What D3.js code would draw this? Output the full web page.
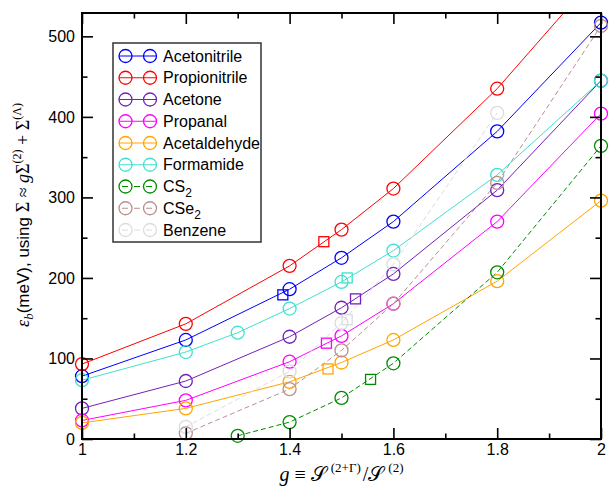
<!DOCTYPE html>
<html>
<head>
<meta charset="utf-8">
<script src="https://cdn.jsdelivr.net/npm/d3@7/dist/d3.min.js"></script>
<style>
  html, body { margin: 0; padding: 0; background: #fff; }
  svg { display: block; }
</style>
</head>
<body>
<svg id="chart" width="609" height="490"></svg>
<script>
// ---------- DATA ----------
const seriesNames = ["Acetonitrile", "Propionitrile", "Acetone", "Propanal", "Acetaldehyde", "Formamide", "CS2", "CSe2", "Benzene"];
const seriesColors = ["#0000ff", "#ff0000", "#7221bc", "#ff00ff", "#ffa500", "#40e0d0", "#008b00", "#bc8f8f", "#dcdcdc"];
const seriesDashed = [false, false, false, false, false, false, true, true, true];

const gAcetonitrile  = [1.0, 1.2, 1.4, 1.5, 1.6, 1.8, 2.0];
const vAcetonitrile  = [78, 123, 186, 225, 270, 382, 517];
const gPropionitrile = [1.0, 1.2, 1.4, 1.5, 1.6, 1.8, 2.0];
const vPropionitrile = [93, 143, 215, 260, 311, 435, 582];
const gAcetone       = [1.0, 1.2, 1.4, 1.5, 1.6, 1.8, 2.0];
const vAcetone       = [38, 72, 127, 163, 205, 309, 445];
const gPropanal      = [1.0, 1.2, 1.4, 1.5, 1.6, 1.8, 2.0];
const vPropanal      = [23, 48, 96, 128, 168, 270, 404];
const gAcetaldehyde  = [1.0, 1.2, 1.4, 1.5, 1.6, 1.8, 2.0];
const vAcetaldehyde  = [20, 38, 71, 95, 123, 196, 296];
const gFormamide     = [1.0, 1.2, 1.3, 1.4, 1.5, 1.6, 1.8, 2.0];
const vFormamide     = [73, 108, 132, 162, 195, 234, 328, 445];
const gCS2           = [1.3, 1.4, 1.5, 1.6, 1.8, 2.0];
const vCS2           = [4, 21, 51, 94, 207, 364];
const gCSe2          = [1.2, 1.4, 1.5, 1.6, 1.8, 2.0];
const vCSe2          = [7, 62, 110, 168, 318, 513];
const gBenzene       = [1.2, 1.4, 1.5, 1.6, 1.8];
const vBenzene       = [15, 84, 144, 217, 405];

// square markers (one per series, null if none)
const squareG = [1.387, 1.466, 1.527, 1.471, 1.474, 1.511, 1.556, null, 1.511];
const squareV = [179, 245, 174, 119, 87, 200, 74, null, 148];

const xTickValues = [1.0, 1.2, 1.4, 1.6, 1.8, 2.0];
const xTickLabels = ["1", "1.2", "1.4", "1.6", "1.8", "2"];
const yTickValues = [0, 100, 200, 300, 400, 500];
const yTickLabels = ["0", "100", "200", "300", "400", "500"];
const xMinorValues = [1.1, 1.3, 1.5, 1.7, 1.9];
const yMinorValues = [50, 150, 250, 350, 450];

const seriesG = [gAcetonitrile, gPropionitrile, gAcetone, gPropanal, gAcetaldehyde, gFormamide, gCS2, gCSe2, gBenzene];
const seriesV = [vAcetonitrile, vPropionitrile, vAcetone, vPropanal, vAcetaldehyde, vFormamide, vCS2, vCSe2, vBenzene];

// ---------- LAYOUT ----------
const L = 82, R = 601, T = 13, B = 439;
const svg = d3.select("#chart");
const x = d3.scaleLinear().domain([1, 2]).range([L, R]);
const y = d3.scaleLinear().domain([0, 529]).range([B, T]);

const series = seriesNames.map((name, i) => ({
  name, color: seriesColors[i], dashed: seriesDashed[i],
  pts: seriesG[i].map((g, j) => ({ g, v: seriesV[i][j] })),
  sq: squareG[i] == null ? null : { g: squareG[i], v: squareV[i] }
}));

svg.append("defs").append("clipPath").attr("id", "plotclip")
  .append("rect").attr("x", L).attr("y", T).attr("width", R - L).attr("height", B - T);

const line = d3.line().x(d => x(d.g)).y(d => y(d.v));
const dash = "5,3";

// lines
const linesG = svg.append("g").attr("clip-path", "url(#plotclip)");
series.forEach(s => {
  linesG.append("path").datum(s.pts)
    .attr("d", line)
    .attr("fill", "none")
    .attr("stroke", s.color)
    .attr("stroke-width", 1)
    .attr("stroke-dasharray", s.dashed ? dash : null);
});

// markers
const r = 6.5;
series.forEach(s => {
  const g = svg.append("g");
  g.selectAll("circle").data(s.pts.filter(d => d.v <= y.domain()[1]))
    .join("circle")
    .attr("cx", d => x(d.g)).attr("cy", d => y(d.v)).attr("r", r)
    .attr("fill", "none").attr("stroke", s.color).attr("stroke-width", 1.3);
  if (s.sq) {
    const a = 10;
    g.append("rect")
      .attr("x", x(s.sq.g) - a / 2).attr("y", y(s.sq.v) - a / 2)
      .attr("width", a).attr("height", a)
      .attr("fill", "none").attr("stroke", s.color).attr("stroke-width", 1.3);
  }
});

// ---------- AXES ----------
const fontTick = "'Liberation Sans', Arial, Helvetica, sans-serif";
function styleAxis(sel) {
  sel.select(".domain").remove();
  sel.selectAll(".tick line").attr("stroke", "#000").attr("stroke-width", 1.6);
  sel.selectAll(".tick text").attr("font-family", fontTick).attr("font-size", 16).attr("fill", "#000");
}
const major = 11, minor = 5.5;

svg.append("g").attr("transform", `translate(0,${B})`)
  .call(d3.axisBottom(x).tickValues(xTickValues).tickSize(-major).tickPadding(5)
    .tickFormat((d, i) => xTickLabels[i])).call(styleAxis);
svg.append("g").attr("transform", `translate(0,${B})`)
  .call(d3.axisBottom(x).tickValues(xMinorValues).tickSize(-minor).tickFormat("")).call(styleAxis);
svg.append("g").attr("transform", `translate(0,${T})`)
  .call(d3.axisTop(x).tickValues(xTickValues).tickSize(-major).tickFormat("")).call(styleAxis);
svg.append("g").attr("transform", `translate(0,${T})`)
  .call(d3.axisTop(x).tickValues(xMinorValues).tickSize(-minor).tickFormat("")).call(styleAxis);

svg.append("g").attr("transform", `translate(${L},0)`)
  .call(d3.axisLeft(y).tickValues(yTickValues).tickSize(-major).tickPadding(7)
    .tickFormat((d, i) => yTickLabels[i])).call(styleAxis);
svg.append("g").attr("transform", `translate(${L},0)`)
  .call(d3.axisLeft(y).tickValues(yMinorValues).tickSize(-minor).tickFormat("")).call(styleAxis);
svg.append("g").attr("transform", `translate(${R},0)`)
  .call(d3.axisRight(y).tickValues(yTickValues).tickSize(-major).tickFormat("")).call(styleAxis);
svg.append("g").attr("transform", `translate(${R},0)`)
  .call(d3.axisRight(y).tickValues(yMinorValues).tickSize(-minor).tickFormat("")).call(styleAxis);

// frame
svg.append("rect").attr("x", L).attr("y", T).attr("width", R - L).attr("height", B - T)
  .attr("fill", "none").attr("stroke", "#000").attr("stroke-width", 2);

// ---------- AXIS TITLES ----------
const serif = "'Liberation Serif', 'DejaVu Serif', 'Times New Roman', serif";
const xt = svg.append("text")
  .attr("x", (L + R) / 2).attr("y", 481)
  .attr("text-anchor", "middle").attr("font-family", serif).attr("font-size", 20).attr("fill", "#000");
xt.append("tspan").attr("font-style", "italic").text("g");
xt.append("tspan").text(" \u2261 ");
xt.append("tspan").text("\uD835\uDCAE");
xt.append("tspan").attr("font-size", 13).attr("dx", 5).attr("dy", -9).text("(2+\u0393)");
xt.append("tspan").attr("dx", 2).attr("dy", 9).text("/");
xt.append("tspan").text("\uD835\uDCAE");
xt.append("tspan").attr("font-size", 13).attr("dx", 5).attr("dy", -9).text("(2)");

const yt = svg.append("text")
  .attr("transform", `translate(29,${215}) rotate(-90)`)
  .attr("text-anchor", "middle").attr("font-size", 18).attr("fill", "#000").attr("font-family", serif);
yt.append("tspan").attr("font-style", "italic").text("\u03B5");
yt.append("tspan").attr("font-style", "italic").attr("font-size", 13).attr("dy", 4).text("b");
yt.append("tspan").attr("dy", -4).attr("font-family", fontTick).attr("font-size", 17).text("(meV), using ");
yt.append("tspan").text("\u03A3 \u2248 ");
yt.append("tspan").attr("font-style", "italic").text("g");
yt.append("tspan").text("\u03A3");
yt.append("tspan").attr("font-size", 12).attr("dy", -8).text("(2)");
yt.append("tspan").attr("dy", 8).text(" + \u03A3");
yt.append("tspan").attr("font-size", 12).attr("dy", -8).text("(\u039B)");

// ---------- LEGEND ----------
const lg = svg.append("g");
lg.append("rect").attr("x", 113).attr("y", 43).attr("width", 148).attr("height", 199)
  .attr("fill", "#fff").attr("stroke", "#333").attr("stroke-width", 1.5);
series.forEach((s, i) => {
  const cy = 56 + i * 21.75;
  lg.append("line").attr("x1", 119).attr("x2", 156).attr("y1", cy).attr("y2", cy)
    .attr("stroke", s.color).attr("stroke-width", 1)
    .attr("stroke-dasharray", s.dashed ? "6,6" : null).attr("stroke-dashoffset", s.dashed ? -3 : null);
  [125.5, 150].forEach(cx => lg.append("circle").attr("cx", cx).attr("cy", cy).attr("r", r)
    .attr("fill", "none").attr("stroke", s.color).attr("stroke-width", 1.3));
  const t = lg.append("text").attr("x", 163).attr("y", cy + 5.5)
    .attr("font-family", fontTick).attr("font-size", 16).attr("fill", "#000");
  const m = s.name.match(/^(CS|CSe)2$/);
  if (m) {
    t.append("tspan").text(m[1]);
    t.append("tspan").attr("font-size", 12).attr("dy", 5).text("2");
  } else {
    t.text(s.name);
  }
});
</script>
</body>
</html>
